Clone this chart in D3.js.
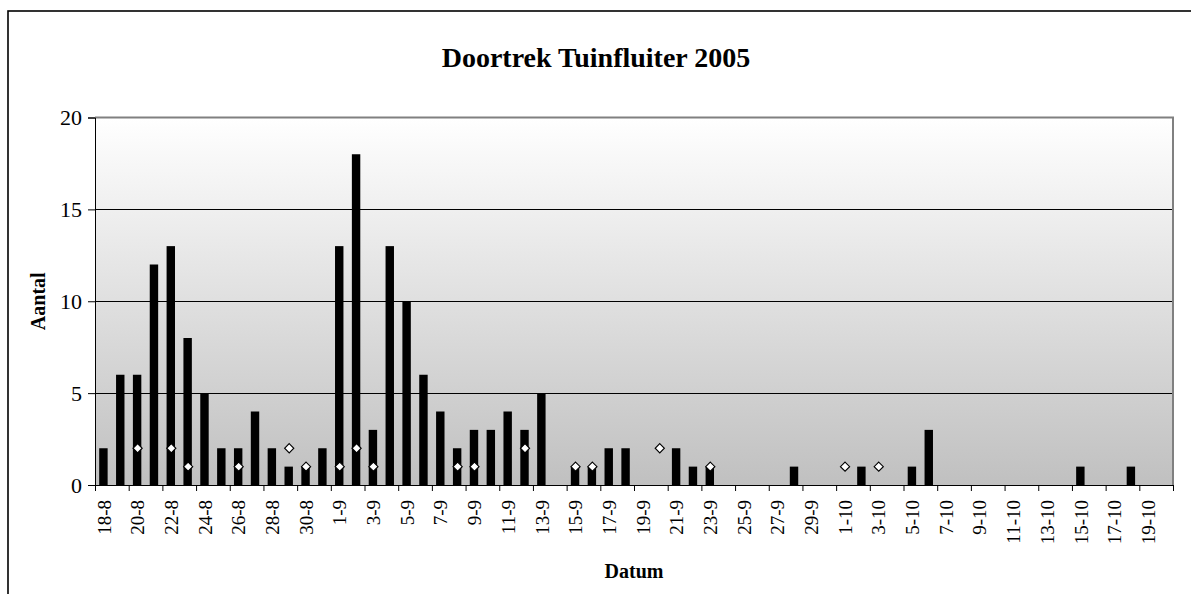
<!DOCTYPE html>
<html>
<head>
<meta charset="utf-8">
<script src="https://cdn.jsdelivr.net/npm/d3@7"></script>
<style>
  html, body { margin: 0; padding: 0; background: #fff; }
  svg text { font-family: "Liberation Serif", "Times New Roman", serif; fill: #000; }
</style>
</head>
<body>
<svg id="chart" width="1191" height="594"></svg>
<script>
const dates = ["18-8","19-8","20-8","21-8","22-8","23-8","24-8","25-8","26-8","27-8","28-8","29-8","30-8","31-8",
  "1-9","2-9","3-9","4-9","5-9","6-9","7-9","8-9","9-9","10-9","11-9","12-9","13-9","14-9","15-9","16-9","17-9","18-9","19-9","20-9",
  "21-9","22-9","23-9","24-9","25-9","26-9","27-9","28-9","29-9","30-9",
  "1-10","2-10","3-10","4-10","5-10","6-10","7-10","8-10","9-10","10-10","11-10","12-10","13-10","14-10","15-10","16-10","17-10","18-10","19-10","20-10"];
const counts = [2,6,6,12,13,8,5,2,2,4,2,1,1,2,
  13,18,3,13,10,6,4,2,3,3,4,3,5,0,1,1,2,2,0,0,
  2,1,1,0,0,0,0,1,0,0,
  0,1,0,0,1,3,0,0,0,0,0,0,0,0,1,0,0,1,0,0];
const markers = [null,null,2,null,2,1,null,null,1,null,null,2,1,null,
  1,2,1,null,null,null,null,1,1,null,null,2,null,null,1,1,null,null,null,2,
  null,null,1,null,null,null,null,null,null,null,
  1,null,1,null,null,null,null,null,null,null,null,null,null,null,null,null,null,null,null,null];
const yTicks = [0,5,10,15,20];
const title = "Doortrek Tuinfluiter 2005";
const xTitle = "Datum";
const yTitle = "Aantal";

(function () {
const svg = d3.select("#chart");
const pL = 95, pR = 1173, pT = 117.5, pB = 485;

// outer frame
svg.append("rect").attr("x", 8).attr("y", 11).attr("width", 1200).attr("height", 620)
  .attr("fill", "#fff").attr("stroke", "#000").attr("stroke-width", 1.6);

const defs = svg.append("defs");
const grad = defs.append("linearGradient").attr("id", "bg").attr("x1", 0).attr("y1", 0).attr("x2", 0).attr("y2", 1);
grad.append("stop").attr("offset", "0%").attr("stop-color", "#ffffff");
grad.append("stop").attr("offset", "100%").attr("stop-color", "#c0c0c0");

const x = d3.scaleBand().domain(d3.range(dates.length)).range([pL, pR]).padding(0);
const xl = d3.scaleLinear().domain([0, dates.length]).range([pL, pR]);
const y = d3.scaleLinear().domain([0, 20]).range([pB, pT]);

svg.append("rect").attr("x", pL).attr("y", pT).attr("width", pR - pL).attr("height", pB - pT)
  .attr("fill", "url(#bg)");

// gridlines
svg.append("g").selectAll("line").data(yTicks.filter(d => d > 0 && d < 20)).join("line")
  .attr("x1", pL).attr("x2", pR)
  .attr("y1", d => Math.round(y(d)) + 0.5).attr("y2", d => Math.round(y(d)) + 0.5)
  .attr("stroke", "#000").attr("stroke-width", 1);

// plot border top/right (gray)
svg.append("path").attr("d", `M${pL},${pT}H${pR}V${pB}`)
  .attr("fill", "none").attr("stroke", "#808080").attr("stroke-width", 2);

// bars
const bw = x.bandwidth() * 0.5;
svg.append("g").selectAll("rect").data(counts.map((v, i) => ({v, i})).filter(d => d.v > 0)).join("rect")
  .attr("x", d => x(d.i) + (x.bandwidth() - bw) / 2)
  .attr("width", bw)
  .attr("y", d => y(d.v))
  .attr("height", d => y(0) - y(d.v))
  .attr("fill", "#000");

// markers
svg.append("g").selectAll("path").data(markers.map((v, i) => ({v, i})).filter(d => d.v != null)).join("path")
  .attr("transform", d => `translate(${x(d.i) + x.bandwidth() / 2 + 0.5},${y(d.v)})`)
  .attr("d", "M0,-4.6L4.6,0L0,4.6L-4.6,0Z")
  .attr("fill", "#fff").attr("stroke", "#000").attr("stroke-width", 1.1);

// y axis
const yAxis = svg.append("g").attr("transform", `translate(${pL},0)`)
  .call(d3.axisLeft(y).tickValues(yTicks).tickSize(7).tickPadding(6));
yAxis.select(".domain").attr("stroke", "#000");
yAxis.selectAll("line").attr("stroke", "#000");
yAxis.selectAll("text").style("font-size", "22px").style("font-family", "Liberation Serif");

// x axis
const xAxis = svg.append("g").attr("transform", `translate(0,${pB})`)
  .call(d3.axisBottom(xl).tickValues(d3.range(0, dates.length + 1, 2)).tickFormat("").tickSize(6).tickSizeOuter(0));
xAxis.select(".domain").attr("stroke", "#000");
xAxis.selectAll("line").attr("stroke", "#000");

svg.append("g").selectAll("text").data(dates.map((d, i) => ({d, i})).filter(d => d.i % 2 === 0)).join("text")
  .attr("transform", d => `translate(${x(d.i) + x.bandwidth() / 2 + 0.5},500) rotate(-90)`)
  .attr("text-anchor", "end")
  .attr("dy", "0.35em")
  .style("font-size", "19px")
  .text(d => d.d);

// titles
svg.append("text").attr("x", 596).attr("y", 67).attr("text-anchor", "middle")
  .style("font-size", "28px").style("font-weight", "bold").text(title);
svg.append("text").attr("x", (pL + pR) / 2).attr("y", 578).attr("text-anchor", "middle")
  .style("font-size", "20px").style("font-weight", "bold").text(xTitle);
svg.append("text").attr("transform", `translate(45,${(pT + pB) / 2}) rotate(-90)`).attr("text-anchor", "middle")
  .style("font-size", "20px").style("font-weight", "bold").text(yTitle);
})();
</script>
</body>
</html>
